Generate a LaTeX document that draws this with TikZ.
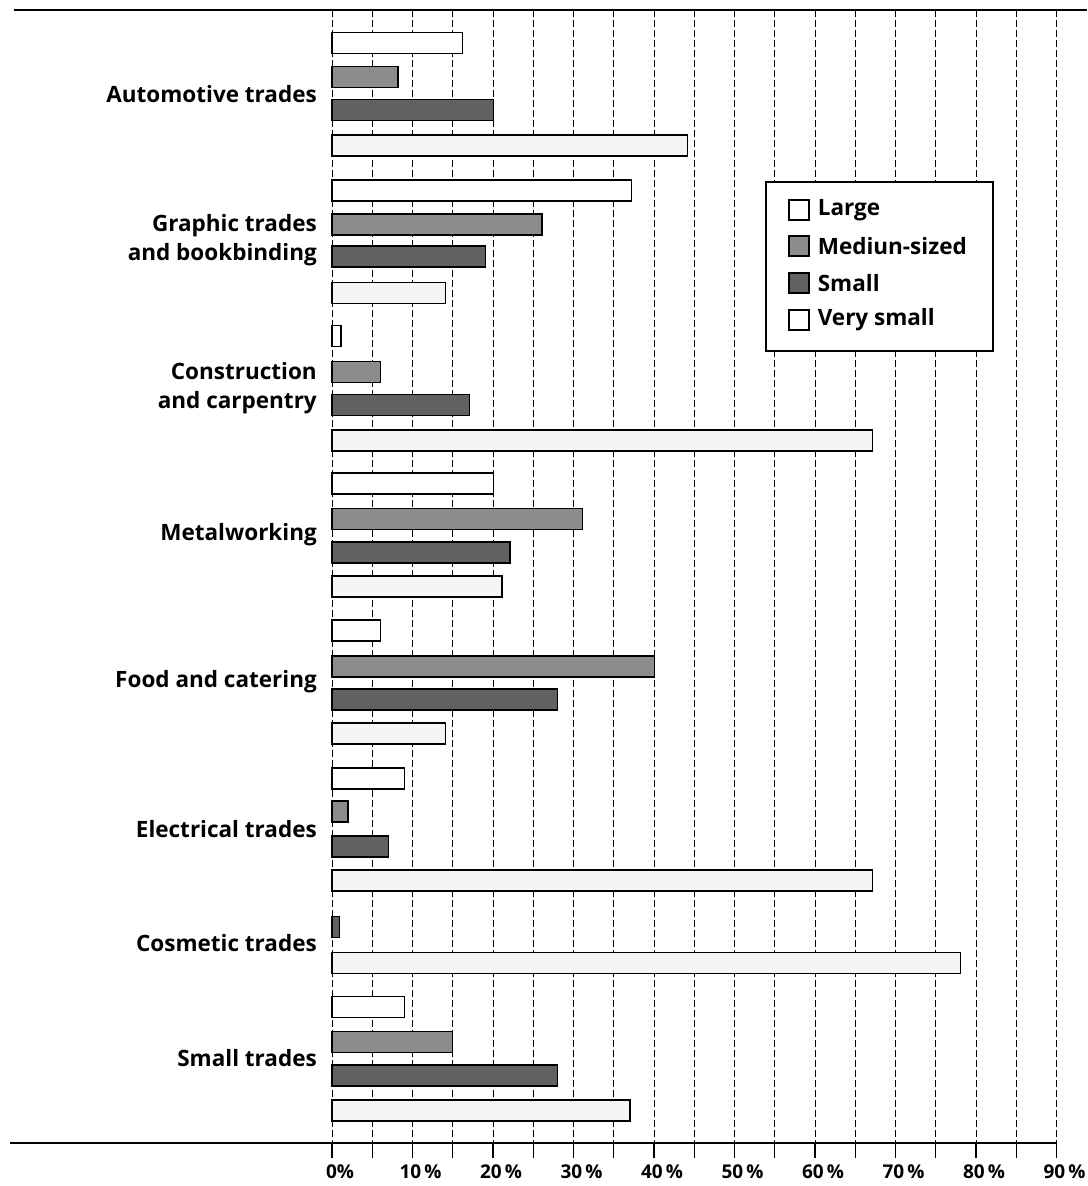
\documentclass[tikz,border=0pt]{standalone}
\usepackage{fontspec}
\setmainfont{Open Sans}
\usetikzlibrary{positioning}

% zero of the percent axis and one bar of the chart
\newcommand{\xzero}{332}
\newcommand{\trbar}[3]{\draw[#1] (\xzero,#2-10.5) rectangle ({\xzero+#3*8.05},#2+10.5);}

\tikzset{
  largebar/.style={draw,line width=1.3pt,fill=white},
  medbar/.style={draw,line width=1.3pt,fill=black!45},
  smallbar/.style={draw,line width=1.3pt,fill=black!62},
  vsmallbar/.style={draw,line width=1.3pt,fill=black!4},
  gridline/.style={line width=0.8pt,dash pattern=on 7pt off 3pt},
  catlabel/.style={anchor=east,align=right,inner sep=0pt,font=\fontsize{22.5}{29}\selectfont\bfseries},
  pctlabel/.style={font=\fontsize{19}{21}\selectfont\bfseries},
  legkey/.style={draw,line width=1.2pt,minimum size=20pt,inner sep=0pt},
  legtext/.style={anchor=west,inner sep=0pt,font=\fontsize{22.5}{26}\selectfont\bfseries},
}

\begin{document}
\begin{tikzpicture}[x=1pt,y=-1pt]
\useasboundingbox (0,0) rectangle (1087,1186);

% Grid and axes
\foreach \p in {0,5,...,90} {
  \draw[gridline] ({\xzero+\p*8.05},10) -- ({\xzero+\p*8.05},1143);
  \draw[line width=1.2pt] ({\xzero+\p*8.05},1143) -- +(0,15);
}
\draw[line width=2.2pt] (14,10) -- (1087,10);
\draw[line width=2.4pt] (10,1143) -- ({\xzero+90*8.05},1143);
\foreach \p/\t in {0/0\%,10/10\,\%,20/20\,\%,30/30\,\%,40/40\,\%,50/50\,\%,60/60\,\%,70/70\,\%,80/80\,\%,90/90\,\%}
  \node[pctlabel] (pct\p) at ({\xzero+\p*8.05+8},1172) {\t};

% Bars
\trbar{largebar}{43}{16.2}
\trbar{medbar}{77}{8.2}
\trbar{smallbar}{110}{20.1}
\trbar{vsmallbar}{145.5}{44.2}

\trbar{largebar}{190.5}{37.2}
\trbar{medbar}{224.5}{26.1}
\trbar{smallbar}{256.5}{19.1}
\trbar{vsmallbar}{293}{14.1}

\trbar{largebar}{336}{1.1}
\trbar{medbar}{372}{6.0}
\trbar{smallbar}{405}{17.1}
\trbar{vsmallbar}{440.5}{67.1}

\trbar{largebar}{483.5}{20.1}
\trbar{medbar}{519}{31.1}
\trbar{smallbar}{552.5}{22.1}
\trbar{vsmallbar}{586.5}{21.1}

\trbar{largebar}{630.5}{6.0}
\trbar{medbar}{666.5}{40.1}
\trbar{smallbar}{699.5}{28.0}
\trbar{vsmallbar}{733.5}{14.1}

\trbar{largebar}{778.5}{9.0}
\trbar{medbar}{811.5}{2.0}
\trbar{smallbar}{846.5}{7.0}
\trbar{vsmallbar}{880.5}{67.1}

\trbar{smallbar}{927}{0.9}
\trbar{vsmallbar}{963}{78.1}

\trbar{largebar}{1007}{9.0}
\trbar{medbar}{1042}{15.0}
\trbar{smallbar}{1075.5}{28.0}
\trbar{vsmallbar}{1110.5}{37.0}

% Trades
\node[catlabel] (auto) at (317,94) {Automotive trades};
\node[catlabel] (graphic) at (317,240) {Graphic trades\\and bookbinding};
\node[catlabel] (constr) at (317,388) {Construction\\and carpentry};
\node[catlabel] (metal) at (317,535) {Metalworking};
\node[catlabel] (food) at (317,682) {Food and catering};
\node[catlabel] (elec) at (317,829) {Electrical trades};
\node[catlabel] (cosm) at (317,943) {Cosmetic trades};
\node[catlabel] (smalltr) at (317,1058) {Small trades};

% Legend
\draw[line width=1.3pt,fill=white] (766,182) rectangle (993,351);
\node[legkey,fill=white] (keylarge) at (799,210) {};
\node[legkey,fill=black!45] (keymed) at (799,246) {};
\node[legkey,fill=black!62] (keysmall) at (799,283) {};
\node[legkey,fill=white] (keyvsmall) at (799,320) {};
\node[legtext,right=8pt of keylarge] (txtlarge) {Large};
\node[legtext,right=8pt of keymed] (txtmed) {Mediun-sized};
\node[legtext,right=8pt of keysmall] (txtsmall) {Small};
\node[legtext,right=8pt of keyvsmall] (txtvsmall) {Very small};
\end{tikzpicture}
\end{document}
